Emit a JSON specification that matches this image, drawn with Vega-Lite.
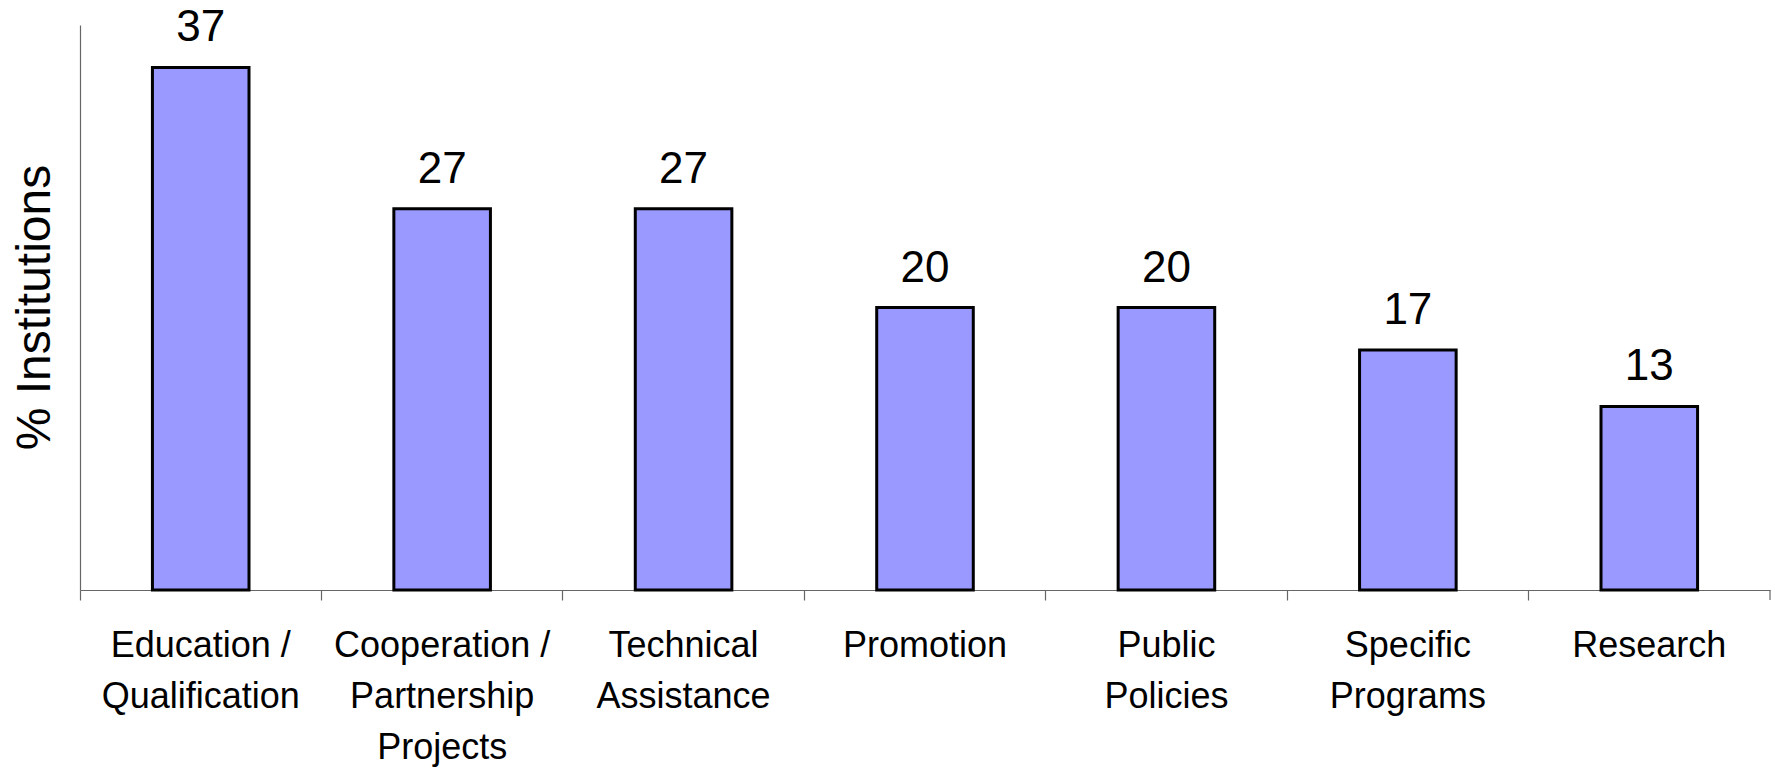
{
  "$schema": "https://vega.github.io/schema/vega-lite/v6.json",
  "autosize": "none",
  "width": 1690,
  "height": 565,
  "padding": {"left": 80, "top": 25, "right": 5, "bottom": 178},
  "background": "white",
  "config": {
    "view": {"stroke": null},
    "font": "Liberation Sans"
  },
  "data": {
    "values": [
      {"category": "Education / Qualification", "value": 37},
      {"category": "Cooperation / Partnership Projects", "value": 27},
      {"category": "Technical Assistance", "value": 27},
      {"category": "Promotion", "value": 20},
      {"category": "Public Policies", "value": 20},
      {"category": "Specific Programs", "value": 17},
      {"category": "Research", "value": 13}
    ]
  },
  "layer": [
    {
      "mark": {"type": "bar", "fill": "#9999FF", "stroke": "#000000", "strokeWidth": 3},
      "encoding": {
        "x": {
          "field": "category",
          "type": "nominal",
          "sort": null,
          "scale": {"paddingInner": 0.6, "paddingOuter": 0.3},
          "axis": {
            "title": null,
            "bandPosition": -0.75,
            "domainColor": "#666666",
            "domainWidth": 1.2,
            "tickColor": "#666666",
            "tickWidth": 1.2,
            "tickSize": 10,
            "labelAngle": 0,
            "labelFont": "Liberation Sans",
            "labelFontSize": 36,
            "labelColor": "#000000",
            "labelLineHeight": 51,
            "labelPadding": 28,
            "labelBaseline": "top",
            "labelAlign": "center",
            "labelOverlap": false,
            "labelFlush": false,
            "labelBound": false,
            "labelLimit": 500,
            "labelExpr": "split(datum.value === 'Education / Qualification' ? 'Education /|Qualification' : datum.value === 'Cooperation / Partnership Projects' ? 'Cooperation /|Partnership|Projects' : datum.value === 'Technical Assistance' ? 'Technical|Assistance' : datum.value === 'Public Policies' ? 'Public|Policies' : datum.value === 'Specific Programs' ? 'Specific|Programs' : datum.value, '|')",
            "labelOffset": 0
          }
        },
        "y": {
          "field": "value",
          "type": "quantitative",
          "scale": {"domain": [0, 40], "nice": false},
          "axis": {
            "title": "% Institutions",
            "titleFont": "Liberation Sans",
            "titleFontSize": 48,
            "titleFontWeight": "normal",
            "titleColor": "#000000",
            "titleBaseline": "middle",
            "titleAngle": -90,
            "titleX": -45,
            "titleY": 282,
            "labels": false,
            "ticks": false,
            "grid": false,
            "domainColor": "#666666",
            "domainWidth": 1.2
          }
        }
      }
    },
    {
      "mark": {"type": "text", "baseline": "alphabetic", "dy": -26, "fontSize": 44, "font": "Liberation Sans", "color": "#000000"},
      "encoding": {
        "x": {"field": "category", "type": "nominal", "sort": null},
        "y": {"field": "value", "type": "quantitative"},
        "text": {"field": "value", "type": "quantitative"}
      }
    },
    {
      "data": {"values": [{"category": "Research"}]},
      "mark": {"type": "rule", "color": "#666666", "strokeWidth": 1.2},
      "encoding": {
        "x": {"field": "category", "type": "nominal", "sort": null, "bandPosition": 1.75},
        "y": {"datum": 0},
        "y2": {"datum": -0.71}
      }
    }
  ]
}
